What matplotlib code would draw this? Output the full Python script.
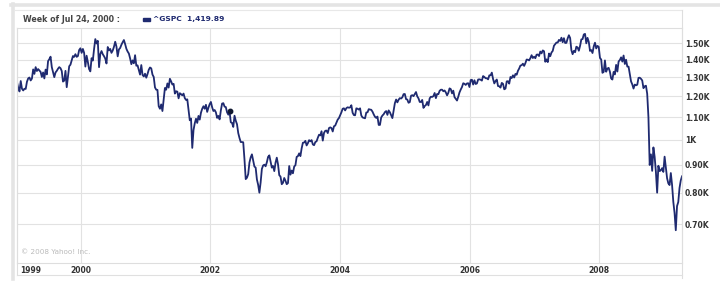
import numpy as np
import pandas as pd
import matplotlib
matplotlib.use("Agg")
import matplotlib.pyplot as plt
from matplotlib.lines import Line2D
from matplotlib.patches import Rectangle
import matplotlib.transforms as mtransforms

# weekly closes of ^GSPC (Fridays, from Jan 8 1999)
spx_1999 = [1275, 1243, 1225, 1280, 1239, 1230, 1239, 1238, 1276, 1294, 1299, 1283, 1293,
            1344, 1319, 1357, 1335, 1346, 1338, 1330, 1302, 1327, 1294, 1343, 1316, 1392,
            1403, 1418, 1357, 1329, 1301, 1327, 1336, 1348, 1357, 1351, 1335, 1277, 1282,
            1336, 1247, 1301, 1362, 1371, 1397, 1422, 1417, 1433, 1417, 1422, 1458, 1469]
spx_2000 = [1441, 1465, 1441, 1360, 1424, 1387, 1346, 1333, 1409, 1395, 1464, 1527, 1499,
            1516, 1357, 1434, 1452, 1433, 1421, 1407, 1378, 1477, 1456, 1465, 1441, 1455,
            1478, 1510, 1480, 1420, 1462, 1471, 1491, 1507, 1521, 1495, 1466, 1449, 1437,
            1408, 1374, 1396, 1379, 1427, 1365, 1367, 1341, 1315, 1369, 1313, 1305, 1320]
spx_2001 = [1298, 1318, 1342, 1355, 1350, 1315, 1302, 1246, 1234, 1233, 1151, 1139, 1160,
            1128, 1183, 1243, 1234, 1267, 1245, 1292, 1278, 1261, 1265, 1214, 1226, 1224,
            1190, 1216, 1211, 1205, 1214, 1191, 1182, 1185, 1134, 1085, 1093, 966, 1041,
            1071, 1092, 1073, 1105, 1088, 1120, 1139, 1151, 1139, 1158, 1124, 1144, 1161]
spx_2002 = [1172, 1146, 1128, 1133, 1122, 1096, 1105, 1089, 1131, 1164, 1166, 1149, 1147,
            1122, 1111, 1126, 1076, 1073, 1055, 1106, 1083, 1067, 1028, 1007, 990, 990,
            989, 921, 847, 852, 865, 908, 928, 940, 916, 893, 889, 846, 827,
            800, 835, 884, 897, 900, 894, 909, 930, 936, 912, 889, 895, 876]
spx_2003 = [908, 927, 901, 861, 856, 829, 834, 851, 841, 829, 833, 895, 863,
            878, 868, 893, 898, 930, 933, 944, 933, 964, 987, 988, 995, 976,
            985, 998, 993, 998, 980, 977, 990, 993, 1008, 1021, 1018, 1036, 996,
            1029, 1038, 1039, 1028, 1050, 1053, 1050, 1035, 1058, 1061, 1074, 1088, 1095]
spx_2004 = [1108, 1122, 1139, 1141, 1131, 1142, 1146, 1144, 1145, 1156, 1120, 1109, 1108,
            1141, 1139, 1135, 1141, 1107, 1098, 1096, 1094, 1121, 1122, 1137, 1135, 1134,
            1125, 1112, 1101, 1096, 1102, 1064, 1064, 1098, 1107, 1113, 1123, 1128, 1110,
            1131, 1122, 1108, 1095, 1130, 1166, 1184, 1170, 1183, 1191, 1189, 1195, 1211, 1212]
spx_2005 = [1186, 1184, 1168, 1171, 1203, 1206, 1201, 1211, 1222, 1200, 1190, 1172, 1172,
            1182, 1143, 1152, 1157, 1172, 1155, 1190, 1198, 1197, 1201, 1217, 1191, 1212,
            1211, 1228, 1234, 1234, 1226, 1230, 1220, 1205, 1218, 1241, 1237, 1215, 1229,
            1196, 1187, 1179, 1198, 1220, 1235, 1248, 1268, 1265, 1259, 1267, 1268, 1248]
spx_2006 = [1285, 1287, 1261, 1284, 1264, 1267, 1288, 1289, 1287, 1282, 1307, 1302, 1295,
            1295, 1289, 1311, 1311, 1326, 1291, 1267, 1280, 1288, 1253, 1252, 1245, 1270,
            1265, 1236, 1240, 1278, 1279, 1266, 1302, 1296, 1311, 1299, 1319, 1314, 1336,
            1349, 1366, 1368, 1377, 1364, 1380, 1401, 1400, 1396, 1409, 1427, 1410, 1418]
spx_2007 = [1409, 1430, 1431, 1422, 1449, 1438, 1456, 1451, 1388, 1402, 1386, 1437, 1421,
            1443, 1453, 1485, 1495, 1505, 1505, 1522, 1515, 1536, 1507, 1533, 1502, 1503,
            1531, 1552, 1534, 1458, 1433, 1453, 1445, 1479, 1474, 1454, 1484, 1525, 1527,
            1557, 1561, 1500, 1535, 1509, 1453, 1458, 1440, 1481, 1504, 1468, 1484, 1478]
spx_2008 = [1411, 1401, 1325, 1330, 1396, 1331, 1349, 1353, 1331, 1294, 1288, 1330, 1316,
            1370, 1332, 1390, 1398, 1414, 1389, 1425, 1375, 1400, 1360, 1360, 1318, 1278,
            1262, 1240, 1261, 1257, 1260, 1297, 1298, 1292, 1283, 1242, 1252, 1255, 1213,
            1099, 899, 940, 877, 968, 930, 873, 800, 896, 876, 879, 887, 873]
spx_2009 = [931, 890, 850, 832, 826, 869, 827, 770, 735, 683, 756, 769, 816, 842, 857]

y_ticks = [700, 800, 900, 1000, 1100, 1200, 1300, 1400, 1500]
y_labels = ["0.70K", "0.80K", "0.90K", "1K", "1.10K", "1.20K", "1.30K", "1.40K", "1.50K"]
x_years = ["2000", "2002", "2004", "2006", "2008"]
marked_week = "2002-04-19"

values = np.array(spx_1999 + spx_2000 + spx_2001 + spx_2002 + spx_2003 + spx_2004 +
                  spx_2005 + spx_2006 + spx_2007 + spx_2008 + spx_2009, dtype=float)
dates = pd.date_range("1999-01-08", periods=len(values), freq="W-FRI")

W, H = 720, 292
fig = plt.figure(figsize=(W / 100, H / 100), dpi=100)
fig.patch.set_facecolor("white")

def px(x0, y0, x1, y1, color="#dcdcdc", lw=1.0):
    fig.add_artist(Line2D([x0 / W, x1 / W], [1 - y0 / H, 1 - y1 / H],
                          transform=fig.transFigure, color=color, lw=lw))

# outer panel edges
px(11, 4.5, 720, 4.5, color="#e4e4e4", lw=2.6)
px(12.5, 4, 12.5, 279, color="#e4e4e4", lw=2.6)
# frame around header, plot and date strip
px(15, 10, 682, 10, color="#e8e8e8", lw=0.8)
px(682, 10, 682, 278, color="#dedede", lw=0.8)
px(17, 28, 17, 275, color="#dedede", lw=0.8)
px(17, 274.5, 682, 274.5, color="#e0e0e0", lw=0.8)

ax = fig.add_axes([17 / W, 1 - 263 / H, (682 - 17) / W, (263 - 28) / H])
ax.set_yscale("log")
ax.plot(dates, values, color="#1f2a70", lw=1.3, solid_joinstyle="round")
mi = dates.get_loc(pd.Timestamp(marked_week))
ax.plot(dates[mi], values[mi], "o", color="#101830", ms=3.2)

ax.set_xlim(dates[0], dates[-1])
ax.set_ylim(595, 1600)

ax.yaxis.tick_right()
ax.set_yticks(y_ticks)
ax.set_yticklabels(y_labels)
ax.yaxis.set_minor_locator(matplotlib.ticker.NullLocator())
ax.tick_params(axis="y", length=0, pad=2, labelsize=5.5, labelcolor="#333333")
for lab in ax.get_yticklabels():
    lab.set_fontweight("bold")

ax.set_xticks([pd.Timestamp(y + "-01-01") for y in x_years])
ax.set_xticklabels(x_years)
ax.tick_params(axis="x", length=0, pad=2.5, labelsize=5.5, labelcolor="#333333")
for lab in ax.get_xticklabels():
    lab.set_fontweight("bold")
trans = mtransforms.blended_transform_factory(ax.transAxes, ax.transAxes)
ax.text(0.004, -0.0145, "1999", transform=trans, ha="left", va="top", fontsize=5.5,
        fontweight="bold", color="#333333")

ax.grid(True, color="#e2e2e2", lw=0.8)
ax.set_axisbelow(True)
for s in ax.spines.values():
    s.set_color("#dedede")
    s.set_linewidth(0.8)

ax.text(0.006, 0.035, "\u00a9 2008 Yahoo! Inc.", transform=ax.transAxes, fontsize=5.2,
        color="#bbbbbb", ha="left", va="bottom")

# header
fig.text(23 / W, 1 - 19.5 / H, "Week of Jul 24, 2000 :", fontsize=5.7, fontweight="bold",
         color="#444444", va="center", ha="left")
fig.add_artist(Rectangle((143 / W, 1 - 21 / H), 7 / W, 3 / H, transform=fig.transFigure,
                         color="#1f2a70"))
fig.text(153 / W, 1 - 19.5 / H, "^GSPC  1,419.89", fontsize=5.4, fontweight="bold",
         color="#1f2a70", va="center", ha="left")

fig.savefig("out.png", dpi=100, facecolor="white")
